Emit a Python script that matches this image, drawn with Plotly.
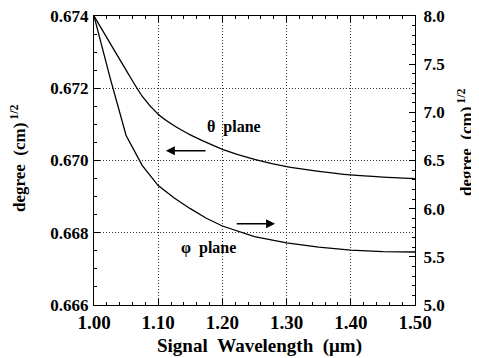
import plotly.graph_objects as go

# Data
wavelength = [1.00, 1.025, 1.05, 1.075, 1.10, 1.125, 1.15, 1.175, 1.20, 1.25, 1.30, 1.35, 1.40, 1.45, 1.50]
theta_plane = [0.6740, 0.67325, 0.67250, 0.67178, 0.67128, 0.67096, 0.67071, 0.67050, 0.67031,
               0.67003, 0.66983, 0.66970, 0.66960, 0.66954, 0.66950]
phi_plane = [8.0, 7.36, 6.76, 6.45, 6.24, 6.11, 6.00, 5.90, 5.82, 5.71, 5.645, 5.60, 5.57, 5.555, 5.55]

x_ticks = [1.00, 1.10, 1.20, 1.30, 1.40, 1.50]
x_ticktext = ["1.00", "1.10", "1.20", "1.30", "1.40", "1.50"]
y_ticks = [0.666, 0.668, 0.670, 0.672, 0.674]
y_ticktext = ["0.666", "0.668", "0.670", "0.672", "0.674"]
y2_ticks = [5.0, 5.5, 6.0, 6.5, 7.0, 7.5, 8.0]
y2_ticktext = ["5.0", "5.5", "6.0", "6.5", "7.0", "7.5", "8.0"]

FONT = "Liberation Serif"

# The page body has an 8px margin, so the figure is drawn 8px smaller
W, H = 471, 350
L, T, R, B = 86, 8, 64, 53
PW = W - L - R
PH = H - T - B


def px_to_paper_x(px):
    return (px - 8 - L) / PW


def px_to_paper_y(py):
    return (H - B + 8 - py) / PH


fig = go.Figure()
fig.add_trace(go.Scatter(x=wavelength, y=theta_plane, mode="lines",
                         line=dict(color="black", width=1.3, shape="spline", smoothing=0.6),
                         name="θ plane", yaxis="y"))
fig.add_trace(go.Scatter(x=wavelength, y=phi_plane, mode="lines",
                         line=dict(color="black", width=1.3),
                         name="φ plane", yaxis="y2"))

GRID_DASH = "1px,2px"

fig.update_layout(
    width=W, height=H,
    margin=dict(l=L, r=R, t=T, b=B, autoexpand=False),
    paper_bgcolor="white", plot_bgcolor="white",
    showlegend=False,
    font=dict(family=FONT, color="black", weight="bold"),
    xaxis=dict(range=[1.0, 1.5], tickvals=x_ticks, ticktext=x_ticktext,
               ticks="inside", ticklen=6, tickwidth=1, tickcolor="black",
               showline=True, linecolor="black", linewidth=1.2, mirror="ticks",
               showgrid=True, gridcolor="#333333", griddash=GRID_DASH, gridwidth=1,
               minor=dict(dtick=0.02, ticks="inside", ticklen=3, tickcolor="black", showgrid=False),
               tickfont=dict(family=FONT, size=19, weight="bold"), zeroline=False,
               ticklabeloverflow="allow", automargin=False),
    yaxis=dict(range=[0.666, 0.674], tickvals=y_ticks, ticktext=y_ticktext,
               ticks="inside", ticklen=6, tickcolor="black",
               showline=True, linecolor="black", linewidth=1.2,
               showgrid=True, gridcolor="#333333", griddash=GRID_DASH, gridwidth=1,
               minor=dict(dtick=0.0005, ticks="inside", ticklen=3, tickcolor="black", showgrid=False),
               tickfont=dict(family=FONT, size=17, weight="bold"), zeroline=False,
               ticklabelstandoff=1, ticklabeloverflow="allow", automargin=False),
    yaxis2=dict(range=[5.0, 8.0], tickvals=y2_ticks, ticktext=y2_ticktext,
                overlaying="y", side="right",
                ticks="inside", ticklen=6, tickcolor="black",
                showline=True, linecolor="black", linewidth=1.2,
                showgrid=False,
                minor=dict(dtick=0.1, ticks="inside", ticklen=3, tickcolor="black", showgrid=False),
                tickfont=dict(family=FONT, size=17, weight="bold"), zeroline=False,
                ticklabelstandoff=4, ticklabeloverflow="allow", automargin=False),
)

ann_font = dict(family=FONT, size=16, color="black", weight="bold")
fig.add_annotation(text="θ\u00a0\u00a0plane", x=1.218, y=0.67093, xref="x", yref="y",
                   showarrow=False, font=ann_font)
fig.add_annotation(text="φ\u00a0\u00a0plane", x=1.178, y=0.66758, xref="x", yref="y",
                   showarrow=False, font=ann_font)
# arrows
fig.add_annotation(x=1.112, y=0.67027, ax=1.176, ay=0.67027, xref="x", yref="y",
                   axref="x", ayref="y", text="", showarrow=True,
                   arrowhead=2, arrowsize=1.2, arrowwidth=1.5, arrowcolor="black")
fig.add_annotation(x=1.282, y=0.66825, ax=1.220, ay=0.66825, xref="x", yref="y",
                   axref="x", ayref="y", text="", showarrow=True,
                   arrowhead=2, arrowsize=1.2, arrowwidth=1.5, arrowcolor="black")

title_font = dict(family=FONT, size=17, color="black", weight="bold")
fig.add_annotation(text="Signal\u00a0\u00a0Wavelength\u00a0\u00a0(μm)",
                   x=px_to_paper_x(260), y=px_to_paper_y(346),
                   xref="paper", yref="paper", showarrow=False,
                   font=dict(family=FONT, size=19, color="black", weight="bold"),
                   xanchor="center", yanchor="middle")
fig.add_annotation(text="degree\u00a0\u00a0(cm)<sup>\u00a01/2</sup>",
                   x=px_to_paper_x(18), y=px_to_paper_y(158),
                   xref="paper", yref="paper", showarrow=False, font=title_font,
                   textangle=-90, xanchor="center", yanchor="middle")
fig.add_annotation(text="degree\u00a0\u00a0(cm)<sup>\u00a01/2</sup>",
                   x=px_to_paper_x(465), y=px_to_paper_y(142),
                   xref="paper", yref="paper", showarrow=False, font=title_font,
                   textangle=-90, xanchor="center", yanchor="middle")

fig.write_html("out.html")
